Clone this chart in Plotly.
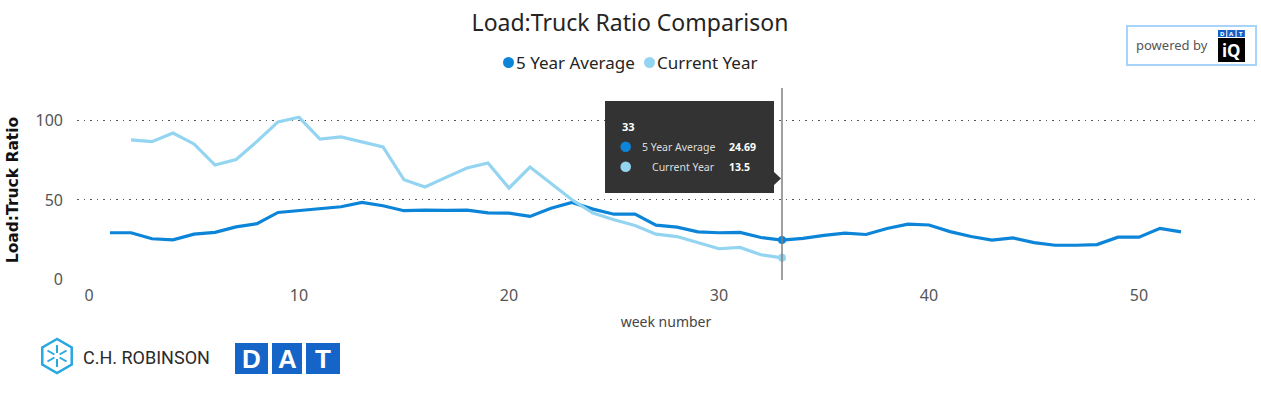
import math
import plotly.graph_objects as go

weeks_avg = list(range(1, 53))
avg_5yr = [29.3, 29.3, 25.5, 24.8, 28.4, 29.5, 33.0, 35.0, 42.1, 43.4,
           44.8, 45.7, 48.4, 46.3, 43.2, 43.6, 43.4, 43.6, 41.8, 41.7,
           39.6, 44.8, 48.4, 44.2, 41.0, 41.0, 34.1, 32.8, 29.9, 29.3,
           29.5, 26.3, 24.69, 25.7, 27.6, 29.1, 28.2, 32.0, 34.7, 34.2,
           30.0, 26.9, 24.6, 26.0, 23.1, 21.4, 21.4, 21.8, 26.5, 26.5,
           32.1, 29.8]
weeks_cur = list(range(2, 34))
current_year = [87.8, 86.7, 92.2, 85.3, 72.0, 75.4, 86.9, 99.2, 102.1, 88.4,
                89.7, 86.3, 83.4, 62.7, 58.1, 64.2, 70.1, 73.3, 57.5, 70.7,
                60.2, 50.1, 41.7, 37.5, 33.9, 28.4, 26.9, 23.2, 19.2, 20.0,
                15.4, 13.5]
series_names = ["5 Year Average", "Current Year"]
hover_week = 33
x_ticks = [0, 10, 20, 30, 40, 50]
y_ticks = [0, 50, 100]

C_AVG = "#0C84D8"
C_CUR = "#93D4F1"
FONT = "Noto Sans"

W, H = 1261, 397
L, R, T, B = 77, 1255, 100, 280


def px(x):
    return (x - L) / (R - L)


def py(y):
    return (B - y) / (B - T)


fig = go.Figure()
fig.add_trace(go.Scatter(x=weeks_avg, y=avg_5yr, mode="lines", name=series_names[0],
                         line=dict(color=C_AVG, width=3.2), showlegend=False))
fig.add_trace(go.Scatter(x=weeks_cur, y=current_year, mode="lines", name=series_names[1],
                         line=dict(color=C_CUR, width=3.2), showlegend=False))
ia = weeks_avg.index(hover_week)
ic = weeks_cur.index(hover_week)
fig.add_trace(go.Scatter(x=[hover_week], y=[avg_5yr[ia]], mode="markers",
                         marker=dict(color=C_AVG, size=8), showlegend=False))
fig.add_trace(go.Scatter(x=[hover_week], y=[current_year[ic]], mode="markers",
                         marker=dict(color=C_CUR, size=8), showlegend=False))

shapes = []
annotations = []


def circle(cx, cy, r, col, layer="above"):
    shapes.append(dict(type="circle", xref="paper", yref="paper",
                       x0=px(cx - r), x1=px(cx + r), y0=py(cy + r), y1=py(cy - r),
                       fillcolor=col, line=dict(width=0), layer=layer))


def text(x, y, s, size, color, anchor="left", family=FONT):
    annotations.append(dict(xref="paper", yref="paper", x=px(x), y=py(y), xanchor=anchor,
                            yanchor="middle", text=s, showarrow=False,
                            font=dict(family=family, size=size, color=color)))


# manual legend
circle(508.5, 62.5, 5.5, C_AVG)
text(514, 62.5, series_names[0], 17, "#252423")
circle(649.5, 62.5, 5.5, C_CUR)
text(655, 62.5, series_names[1], 17, "#252423")

# vertical hover line
shapes.append(dict(type="line", xref="x", yref="paper", x0=hover_week, x1=hover_week,
                   y0=0, y1=py(88), line=dict(color="#7f7f7f", width=1.5)))

# tooltip box
TT = "#333333"
shapes.append(dict(type="rect", xref="paper", yref="paper",
                   x0=px(605), x1=px(774), y0=py(193), y1=py(101),
                   fillcolor=TT, line=dict(width=0), layer="above"))
shapes.append(dict(type="path", xref="paper", yref="paper",
                   path=f"M {px(773)},{py(171)} L {px(781)},{py(178.5)} L {px(773)},{py(186)} Z",
                   fillcolor=TT, line=dict(width=0), layer="above"))
circle(625.7, 146.7, 5.3, C_AVG)
circle(625.7, 166.7, 5.3, C_CUR)
text(620, 126.5, f"<b>{hover_week}</b>", 11, "#ffffff")
text(716.5, 146.5, series_names[0], 10.5, "#dddddd", anchor="right")
text(727, 146.5, f"<b>{avg_5yr[ia]:g}</b>", 10.5, "#ffffff")
text(716.5, 166.5, series_names[1], 10.5, "#dddddd", anchor="right")
text(727, 166.5, f"<b>{current_year[ic]:g}</b>", 10.5, "#ffffff")

# powered by box
shapes.append(dict(type="rect", xref="paper", yref="paper",
                   x0=px(1127), x1=px(1256), y0=py(65), y1=py(26),
                   line=dict(color="#a8d4fb", width=2), fillcolor="white"))
text(1134, 45, "powered by", 13, "#555555")
for i, ch in enumerate("DAT"):
    x0 = 1218 + i * 9.3
    shapes.append(dict(type="rect", xref="paper", yref="paper",
                       x0=px(x0), x1=px(x0 + 8.3), y0=py(37), y1=py(30),
                       fillcolor="#1a5fc4", line=dict(width=0)))
    text(x0 + 4.15, 33.5, f"<b>{ch}</b>", 6, "white", anchor="center")
shapes.append(dict(type="rect", xref="paper", yref="paper",
                   x0=px(1218), x1=px(1245), y0=py(62), y1=py(38),
                   fillcolor="#000000", line=dict(width=0)))
text(1231.5, 50.5, "<b>iQ</b>", 17, "white", anchor="center")

# C.H. Robinson logo
hx, hy, hr = 57, 356, 17
pts = []
for k in range(6):
    a = math.radians(90 + 60 * k)
    pts.append((hx + hr * math.cos(a), hy - hr * math.sin(a)))
path = "M " + " L ".join(f"{px(a)},{py(b)}" for a, b in pts) + " Z"
shapes.append(dict(type="path", xref="paper", yref="paper", path=path,
                   line=dict(color="#27a8e0", width=2.5)))
for k in range(6):
    a = math.radians(90 + 60 * k)
    shapes.append(dict(type="line", xref="paper", yref="paper",
                       x0=px(hx + 3 * math.cos(a)), y0=py(hy - 3 * math.sin(a)),
                       x1=px(hx + 11 * math.cos(a)), y1=py(hy - 11 * math.sin(a)),
                       line=dict(color="#27a8e0", width=2)))
text(81, 357, "C.H. ROBINSON", 18, "#2b2b2b", family="Roboto")

# DAT logo
for ch, x0, x1 in [("D", 235, 268), ("A", 272, 302), ("T", 306, 340)]:
    shapes.append(dict(type="rect", xref="paper", yref="paper",
                       x0=px(x0), x1=px(x1), y0=py(374), y1=py(343),
                       fillcolor="#1565c8", line=dict(width=0)))
    text((x0 + x1) / 2, 358.5, f"<b>{ch}</b>", 26, "white", anchor="center",
         family="Liberation Sans")

fig.update_layout(
    width=W, height=H,
    margin=dict(l=L, r=W - R, t=T, b=H - B, pad=0),
    paper_bgcolor="white", plot_bgcolor="white",
    title=dict(text="Load:Truck Ratio Comparison", x=0.5, xanchor="center",
               xref="paper", yref="container", y=1 - 23 / H, yanchor="middle",
               font=dict(family=FONT, size=23, color="#252423")),
    showlegend=False,
    hovermode=False,
    shapes=shapes,
    annotations=annotations,
    xaxis=dict(range=[(L - 89) / 21, (R - 89) / 21], tickvals=x_ticks, showgrid=False,
               zeroline=False, showline=False, ticks="", ticklabelstandoff=4,
               tickfont=dict(family=FONT, size=16, color="#555555"),
               title=dict(text="week number", standoff=12,
                          font=dict(family=FONT, size=14, color="#444444"))),
    yaxis=dict(range=[-0.5, 113], tickvals=y_ticks, showgrid=True, griddash="1.5px,5px",
               gridcolor="#555555", gridwidth=1.2, zeroline=False, showline=False,
               ticks="", ticklabelstandoff=13,
               tickfont=dict(family=FONT, size=16, color="#555555"),
               title=dict(text="<b>Load:Truck Ratio</b>", standoff=13,
                          font=dict(family="DejaVu Sans", size=15.5, color="#111111"))),
)
fig.update_layout(title_x=(630 - L) / (R - L))
fig.write_html("out.html", config={"displayModeBar": False},
               post_script="document.body.style.margin='0px';")
